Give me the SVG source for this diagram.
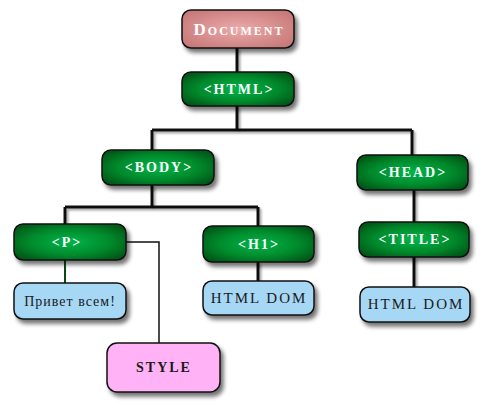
<svg xmlns="http://www.w3.org/2000/svg" width="485" height="410" viewBox="0 0 485 410">
<defs>
<radialGradient id="gGreen" cx="50%" cy="50%" r="60%">
<stop offset="0" stop-color="#00b548"/>
<stop offset="0.6" stop-color="#008a2c"/>
<stop offset="1" stop-color="#005a18"/>
</radialGradient>
<radialGradient id="gDoc" cx="50%" cy="50%" r="60%">
<stop offset="0" stop-color="#ecaaaa"/>
<stop offset="1" stop-color="#c87a7a"/>
</radialGradient>
<filter id="shadow" x="-20%" y="-30%" width="150%" height="180%">
<feGaussianBlur in="SourceAlpha" stdDeviation="2"/>
<feOffset dx="3" dy="4" result="b"/>
<feComponentTransfer><feFuncA type="linear" slope="0.55"/></feComponentTransfer>
<feMerge><feMergeNode/><feMergeNode in="SourceGraphic"/></feMerge>
</filter>
<filter id="lshadow" filterUnits="userSpaceOnUse" x="0" y="0" width="485" height="410">
<feGaussianBlur in="SourceAlpha" stdDeviation="1"/>
<feOffset dx="1.5" dy="1.5"/>
<feComponentTransfer><feFuncA type="linear" slope="0.35"/></feComponentTransfer>
<feMerge><feMergeNode/><feMergeNode in="SourceGraphic"/></feMerge>
</filter>
</defs>
<style>
.box{stroke:#111;stroke-width:1.5;filter:url(#shadow)}
.green{fill:url(#gGreen)}
.doc{fill:url(#gDoc)}
.blue{fill:#a6d8f6}
.pink{fill:#ffb2f6}
.t{font-family:"Liberation Serif","DejaVu Serif",serif;text-anchor:middle;dominant-baseline:central;letter-spacing:2px}
.tw{fill:#ffffff;font-size:14px;font-weight:bold;font-variant:small-caps}
.td{fill:#1a1a1a;font-size:15px}
.ln{fill:none;stroke:#111;stroke-width:3;filter:url(#lshadow)}
.thin{fill:none;stroke:#111;stroke-width:1.5}
</style>
<g id="connectors">
<path class="ln" d="M237,48 V72"/>
<path class="ln" d="M237,106 V130 M152,130 H412 M152,130 V150 M412,130 V155"/>
<path class="ln" d="M152,185 V207 M65,207 H258 M65,207 V224 M258,207 V226"/>
<path class="ln" d="M414,190 V222"/>
<path class="ln" d="M414,257 V287"/>
<path class="ln" d="M258,262 V281"/>
<path d="M65,260 V283" style="fill:none;stroke:#0a4a14;stroke-width:2"/>
<path class="thin" d="M126,242 H159 V343"/>
</g>
<g id="document"><rect class="box doc" x="182" y="10" width="112" height="38" rx="9"/><text class="t tw" x="239" y="29" style="font-size:17px">Document</text></g>
<g id="html"><rect class="box green" x="182" y="72" width="112" height="34" rx="9"/><text class="t tw" x="239" y="89">&lt;HTML&gt;</text></g>
<g id="body"><rect class="box green" x="102" y="150" width="112" height="35" rx="9"/><text class="t tw" x="159" y="167">&lt;BODY&gt;</text></g>
<g id="head"><rect class="box green" x="357" y="155" width="111" height="35" rx="9"/><text class="t tw" x="413" y="172">&lt;HEAD&gt;</text></g>
<g id="p"><rect class="box green" x="14" y="224" width="112" height="36" rx="9"/><text class="t tw" x="67" y="242">&lt;P&gt;</text></g>
<g id="h1"><rect class="box green" x="203" y="226" width="111" height="36" rx="9"/><text class="t tw" x="259" y="244">&lt;H1&gt;</text></g>
<g id="title"><rect class="box green" x="359" y="222" width="110" height="35" rx="9"/><text class="t tw" x="415" y="239">&lt;TITLE&gt;</text></g>
<g id="privet"><rect class="box blue" x="14" y="283" width="112" height="36" rx="9"/><text class="t td" x="70" y="301" style="font-size:14px;letter-spacing:1px">Привет всем!</text></g>
<g id="htmldom1"><rect class="box blue" x="203" y="281" width="111" height="34" rx="9"/><text class="t td" x="259" y="298">HTML DOM</text></g>
<g id="htmldom2"><rect class="box blue" x="360" y="287" width="110" height="35" rx="9"/><text class="t td" x="416" y="304">HTML DOM</text></g>
<g id="style"><rect class="box pink" x="107" y="343" width="113" height="49" rx="10"/><text class="t td" x="164" y="367" style="font-size:14px;font-weight:bold">STYLE</text></g>
</svg>
